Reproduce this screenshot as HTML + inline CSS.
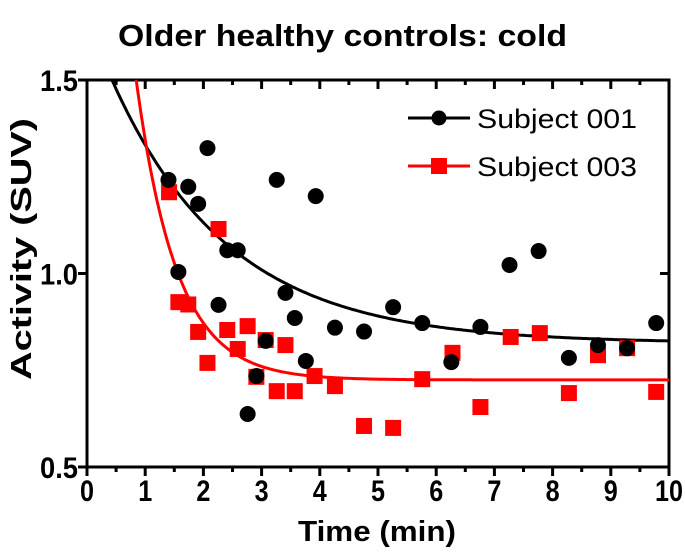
<!DOCTYPE html>
<html><head><meta charset="utf-8"><style>
body{margin:0;background:#fff;}
svg{display:block;font-family:"Liberation Sans",Arial,sans-serif;}
</style></head><body>
<svg id="chart" width="685" height="554" viewBox="0 0 685 554">
<defs><clipPath id="plotclip"><rect x="87" y="80" width="582" height="387"/></clipPath></defs>
<text x="118" y="46" font-size="31" font-weight="bold" textLength="449" lengthAdjust="spacingAndGlyphs">Older healthy controls: cold</text>
<text transform="translate(31,380) rotate(-90)" font-size="29" font-weight="bold" textLength="262" lengthAdjust="spacingAndGlyphs">Activity (SUV)</text>
<text x="298" y="541" font-size="29" font-weight="bold" textLength="158" lengthAdjust="spacingAndGlyphs">Time (min)</text>
<g id="axes"></g>
<g id="curves" clip-path="url(#plotclip)"></g>
<g id="marks3"></g>
<g id="marks1"></g>
<g>
<g>
<line x1="408" y1="118" x2="470" y2="118" stroke="#000" stroke-width="3"/>
<circle cx="439" cy="118" r="7.5" fill="#000"/>
<text x="477" y="128" font-size="27" textLength="160" lengthAdjust="spacingAndGlyphs">Subject 001</text></g>
<g>
<line x1="408" y1="166" x2="470" y2="166" stroke="#f00" stroke-width="3"/>
<rect x="431" y="158" width="16" height="16" fill="#f00"/>
<text x="477" y="176" font-size="27" textLength="160" lengthAdjust="spacingAndGlyphs">Subject 003</text></g>
</g>
</svg>
<script>
const xTicks=[0,1,2,3,4,5,6,7,8,9,10];
const yTicks=[0.5,1.0,1.5];
const yTickLabels=["0.5","1.0","1.5"];
const s1x=[1.40,1.57,1.74,1.91,2.07,2.26,2.41,2.59,2.76,2.91,3.07,3.26,3.41,3.57,3.76,3.93,4.26,4.76,5.26,5.76,6.26,6.76,7.26,7.76,8.28,8.78,9.28,9.78];
const s1y=[1.242,1.004,1.224,1.18,1.324,0.919,1.06,1.06,0.637,0.735,0.826,1.242,0.95,0.885,0.774,1.20,0.86,0.85,0.913,0.872,0.771,0.862,1.022,1.058,0.782,0.815,0.807,0.872];
const s3x=[1.41,1.57,1.74,1.91,2.07,2.26,2.41,2.59,2.76,2.91,3.07,3.26,3.41,3.57,3.91,4.26,4.76,5.26,5.76,6.28,6.76,7.28,7.78,8.28,8.78,9.28,9.78];
const s3y=[1.21,0.926,0.92,0.849,0.769,1.115,0.854,0.805,0.864,0.733,0.828,0.696,0.815,0.696,0.735,0.709,0.606,0.601,0.727,0.795,0.655,0.836,0.846,0.691,0.789,0.807,0.694];
const fit1=[0.82,0.842,0.497];
const fit3=[0.725,2.62,1.44];
const X=v=>87+v*58.2, Y=v=>467-(v-0.5)*387;
const NS="http://www.w3.org/2000/svg";
function mk(t,a,p){const e=document.createElementNS(NS,t);for(const k in a)e.setAttribute(k,a[k]);p.appendChild(e);return e;}
const ax=document.getElementById('axes');
const frame=mk('rect',{x:87,y:80,width:582,height:387,fill:'none',stroke:'#000','stroke-width':3},ax);


for(let i=0;i<=20;i++){const v=i/2,x=X(v),L=i%2?5:9;
mk('line',{x1:x,y1:467,x2:x,y2:467+L,stroke:'#000','stroke-width':3},ax);
mk('line',{x1:x,y1:80,x2:x,y2:80+L,stroke:'#000','stroke-width':3},ax);}
xTicks.forEach(v=>{const w=String(v).length*14;
const t=mk('text',{x:X(v)-w/2,y:501,'font-size':30,'font-weight':'bold',textLength:w,lengthAdjust:'spacingAndGlyphs'},ax);t.textContent=v;

});
yTicks.forEach((v,i)=>{const y=Y(v);
mk('line',{x1:78,y1:y,x2:87,y2:y,stroke:'#000','stroke-width':3},ax);
mk('line',{x1:660,y1:y,x2:669,y2:y,stroke:'#000','stroke-width':3},ax);
const t=mk('text',{x:40,y:y+11,'font-size':30,'font-weight':'bold',textLength:38,lengthAdjust:'spacingAndGlyphs'},ax);t.textContent=yTickLabels[i];

});
const cv=document.getElementById('curves');
function curve(f,col,name){let d='';for(let i=0;i<=300;i++){const x=i/30;const y=f[0]+f[1]*Math.exp(-f[2]*x);d+=(i?'L':'M')+X(x).toFixed(1)+','+Y(y).toFixed(1);}
const p=mk('path',{d:d,fill:'none',stroke:col,'stroke-width':3},cv);

}
curve(fit1,'#000','fit-curve-subject-001');
curve(fit3,'#f00','fit-curve-subject-003');
const m3=document.getElementById('marks3'), m1=document.getElementById('marks1');
s3x.forEach((x,i)=>{const r=mk('rect',{x:X(x)-8,y:Y(s3y[i])-8,width:16,height:16,fill:'#f00'},m3);

});
s1x.forEach((x,i)=>{const c=mk('circle',{cx:X(x),cy:Y(s1y[i]),r:8,fill:'#000'},m1);

});
</script>
</body></html>
